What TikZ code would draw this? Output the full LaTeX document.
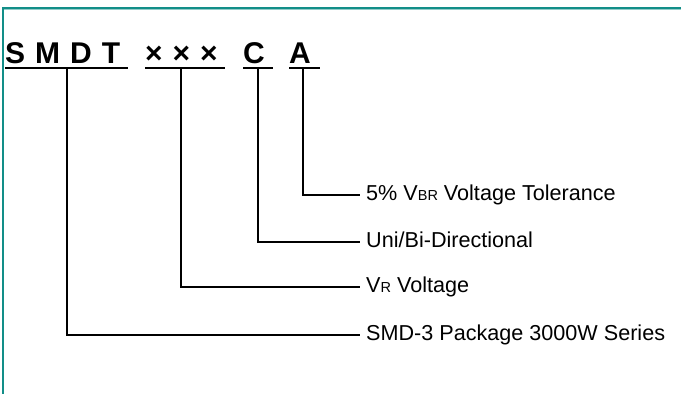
\documentclass[tikz,border=0pt]{standalone}
\usepackage{fontspec}
\setmainfont{Liberation Sans}
\newcommand\codefont{\fontsize{30}{30}\selectfont\bfseries}
\newcommand\lblfont{\fontsize{21.6}{21.6}\selectfont}
\newcommand\sbs[1]{{\fontsize{14.5}{14.5}\selectfont #1}}
\definecolor{frameteal}{RGB}{18,142,136}
\tikzset{
  code/.style={anchor=base west,inner xsep=0pt,inner ysep=5pt,text depth=0pt,
    align=left,font=\codefont},
  uline/.style={line width=2.5pt},
  lead/.style={line width=2.3pt},
  lbl/.style={anchor=west,inner xsep=6pt,inner ysep=0pt,text height=13pt,
    text depth=2pt,font=\lblfont},
}
\begin{document}
\begin{tikzpicture}[x=1pt,y=-1pt,line cap=butt,line join=miter]
\useasboundingbox (0,0) rectangle (681,394);
\draw[frameteal,line width=2pt] (3,394)--(3,8)--(681,8);
\draw[frameteal!45,line width=.8pt] (4,9.6)--(681,9.6);
\node[code,text width=123pt] (smdt) at (5,63) {S M D T};
\node[code,text width=80pt] (xxx) at (145,63) {× × ×};
\node[code,text width=30pt] (cc) at (243,63) {C};
\node[code,text width=31pt] (aa) at (289,63) {A};
\draw[uline] (smdt.south west)--(smdt.south east);
\draw[uline] (xxx.south west)--(xxx.south east);
\draw[uline] (cc.south west)--(cc.south east);
\draw[uline] (aa.south west)--(aa.south east);
\node[lbl] (tol) at (360,195) {5\% V\sbs{BR} Voltage Tolerance};
\node[lbl] (dir) at (360,242) {Uni/Bi-Directional};
\node[lbl] (vr) at (360,287) {V\sbs{R} Voltage};
\node[lbl] (pkg) at (360,335) {SMD-3 Package 3000W Series};
\draw[lead] ([xshift=-2pt]aa.south) |- (tol.west);
\draw[lead] (cc.south) |- (dir.west);
\draw[lead] ([xshift=-4pt]xxx.south) |- (vr.west);
\draw[lead] (smdt.south) |- (pkg.west);
\end{tikzpicture}
\end{document}
